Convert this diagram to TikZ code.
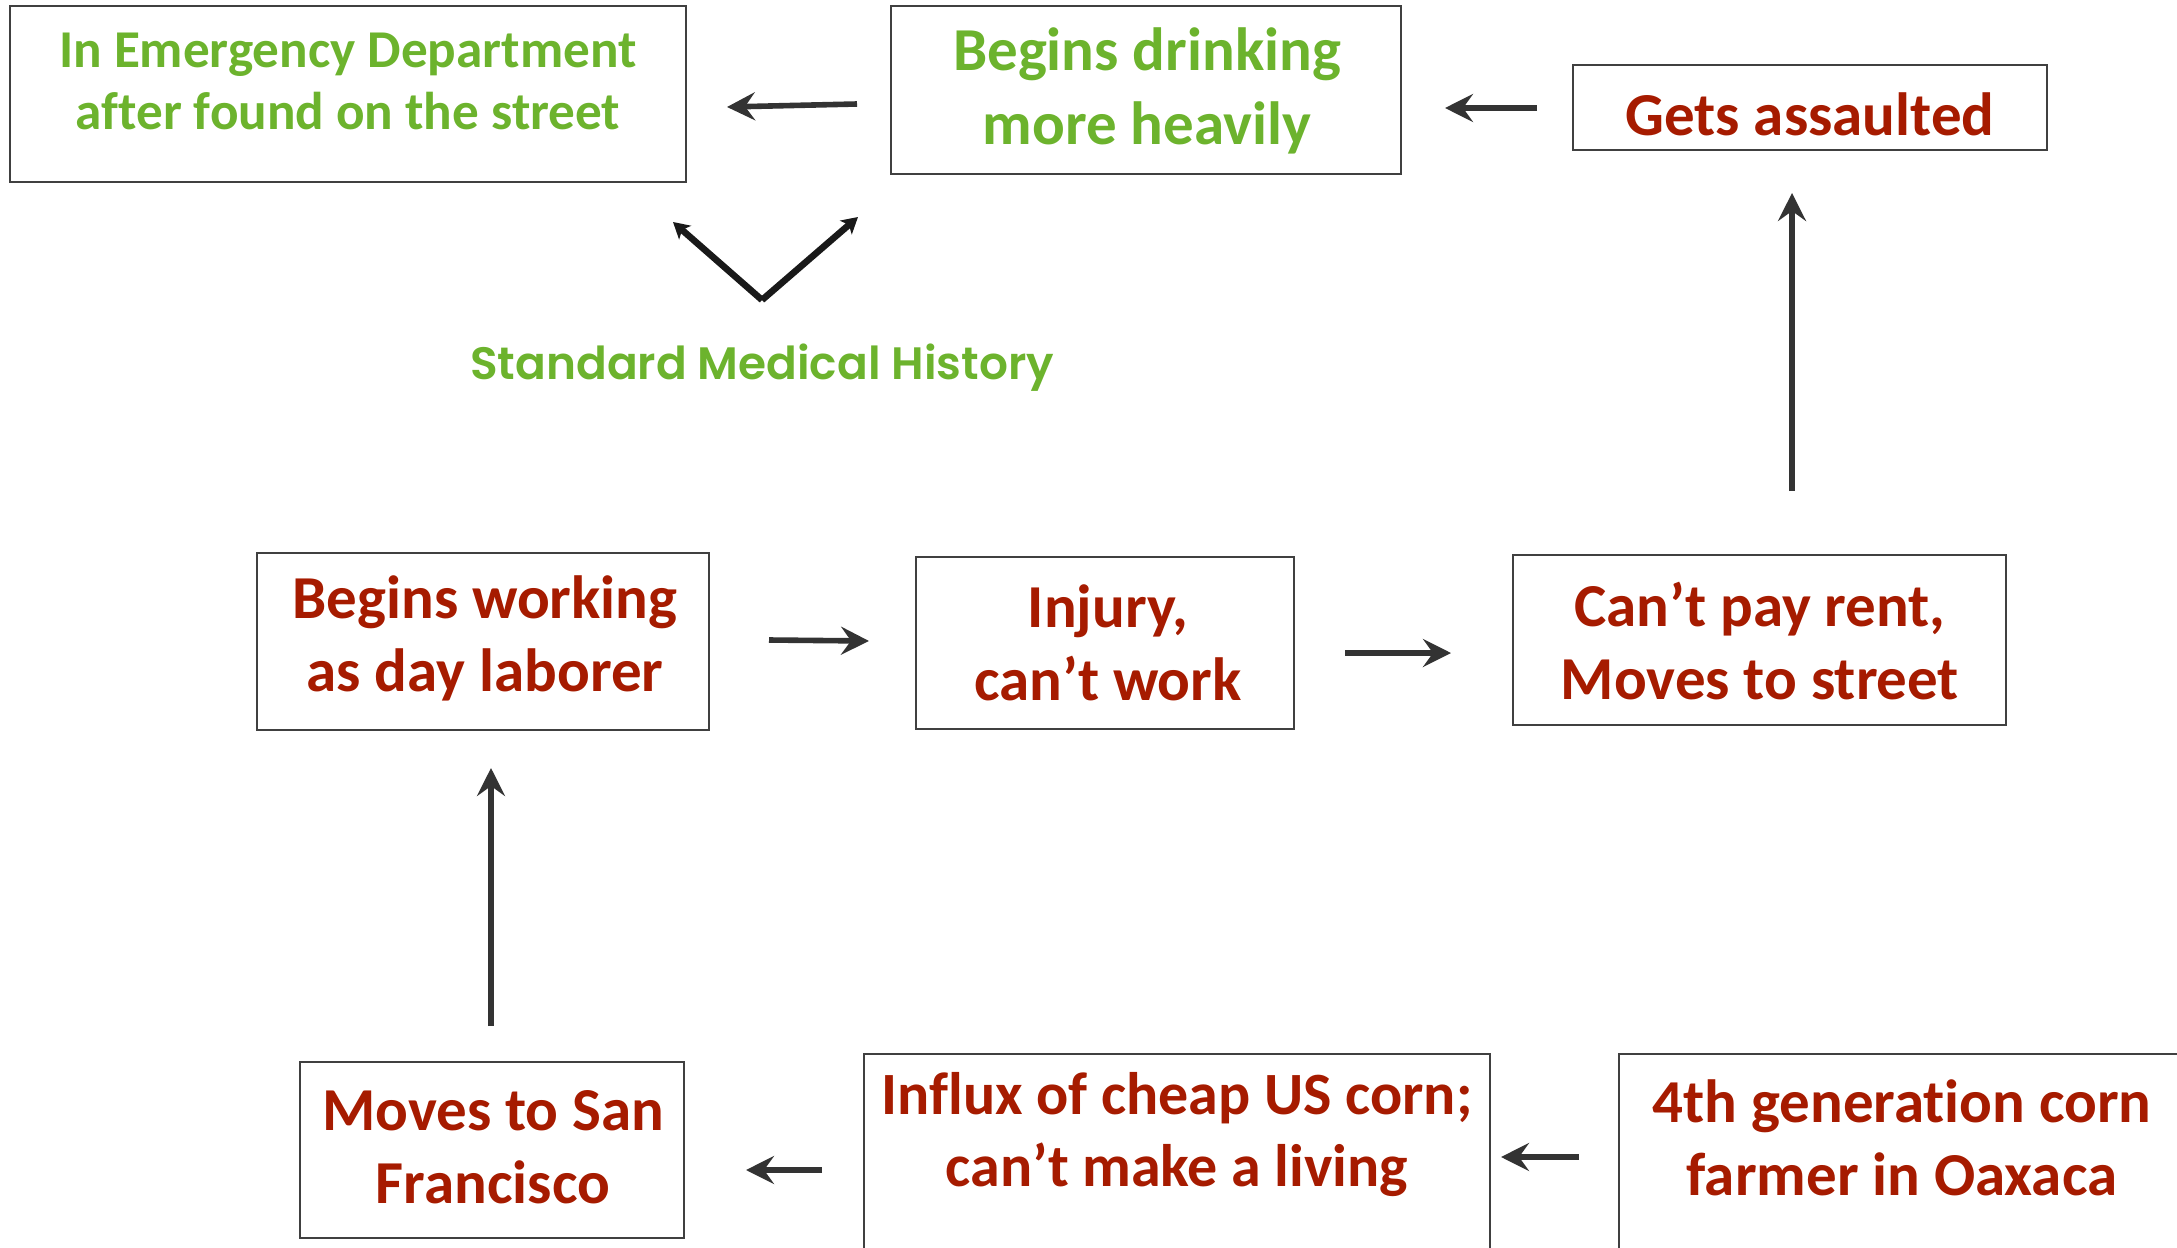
\documentclass[tikz,border=0pt]{standalone}
\usepackage{fontspec}
\setmainfont[Ligatures=NoCommon]{Carlito}
\newfontfamily\gothic{Poppins SemiBold}
\usetikzlibrary{arrows.meta}
\definecolor{grn}{RGB}{108,179,45}
\definecolor{rd}{RGB}{166,27,0}
\definecolor{bordc}{RGB}{64,64,64}
\definecolor{arrc}{RGB}{51,51,51}
\tikzset{
  box/.style={draw=bordc, line width=1pt, inner sep=0pt},
  rtext/.style={text=rd, font=\fontsize{30.5pt}{36.5pt}\selectfont\bfseries, align=center, inner sep=0pt},
  gtext/.style={text=grn, font=\fontsize{26.6pt}{31pt}\selectfont\bfseries, align=center, inner sep=0pt},
  gbig/.style={text=grn, font=\fontsize{30.5pt}{37pt}\selectfont\bfseries, align=center, inner sep=0pt},
  arr/.style={draw=arrc, line width=2.8pt, -{Stealth[length=14pt,width=14pt,inset=5pt]}},
  varr/.style={draw=black!90, line width=3.3pt, -{Stealth[length=8pt,width=9pt,inset=2pt]}},
}
\begin{document}
\begin{tikzpicture}[x=0.5pt,y=-0.5pt]
\useasboundingbox (0,0) rectangle (2177,1247);
% boxes
\node[box, minimum width=338pt, minimum height=88pt] (ed) at (348,94) {};
\node[box, minimum width=255pt, minimum height=84pt] (drink) at (1146,90) {};
\node[box, minimum width=237pt, minimum height=42.5pt] (assault) at (1810,107.5) {};
\node[box, minimum width=226pt, minimum height=88.5pt] (work) at (483,641.5) {};
\node[box, minimum width=189pt, minimum height=86pt] (injury) at (1105,643) {};
\node[box, minimum width=246.5pt, minimum height=85pt] (rent) at (1759.5,640) {};
\node[box, minimum width=192pt, minimum height=88pt] (sf) at (492,1150) {};
\node[box, minimum width=313pt, minimum height=143pt] (influx) at (1177,1197) {};
\node[box, minimum width=283pt, minimum height=143pt] (farmer) at (1902,1197) {};
% texts
\node[gtext] (edT) at (348,81) {In Emergency Department\\after found on the street};
\node[gbig] (drinkT) at (1147,91) {Begins drinking\\more heavily};
\node[rtext] (assaultT) at (1810,114) {Gets assaulted};
\node[rtext] (workT) at (485,638) {Begins working\\as day laborer};
\node[rtext] (injuryT) at (1108,643) {Injury,\\can’t work};
\node[rtext] (rentT) at (1760,641) {Can’t pay rent,\\Moves to street};
\node[rtext] (sfT) at (493,1147) {Moves to San\\Francisco};
\node[rtext, font=\fontsize{30pt}{36pt}\selectfont\bfseries] (influxT) at (1177,1135) {Influx of cheap US corn;\\can’t make a living};
\node[rtext] (farmerT) at (1902,1138) {4th generation corn\\farmer in Oaxaca};
\node[text=grn, font=\gothic\fontsize{22.7pt}{27pt}\selectfont, inner sep=0pt] (smh) at (762,368) {Standard Medical History};
% connector end points
\coordinate (a1s) at (857,104); \coordinate (a1e) at (727,107);
\coordinate (a2s) at (1537,108); \coordinate (a2e) at (1445,108);
\coordinate (vv) at (762,300); \coordinate (vl) at (673,222); \coordinate (vr) at (858,217);
\coordinate (a3s) at (1792,491); \coordinate (a3e) at (1792,193);
\coordinate (a4s) at (769,640); \coordinate (a4e) at (869,641);
\coordinate (a5s) at (1345,653); \coordinate (a5e) at (1451,653);
\coordinate (a6s) at (491,1026); \coordinate (a6e) at (491,768);
\coordinate (a7s) at (822,1170); \coordinate (a7e) at (746,1170);
\coordinate (a8s) at (1579,1157); \coordinate (a8e) at (1501,1157);
% connectors
\draw[arr] (a1s) -- (a1e);
\draw[arr] (a2s) -- (a2e);
\draw[varr] (vv) -- (vl);
\draw[varr] (vv) -- (vr);
\draw[arr] (a3s) -- (a3e);
\draw[arr] (a4s) -- (a4e);
\draw[arr] (a5s) -- (a5e);
\draw[arr] (a6s) -- (a6e);
\draw[arr] (a7s) -- (a7e);
\draw[arr] (a8s) -- (a8e);
\end{tikzpicture}
\end{document}
